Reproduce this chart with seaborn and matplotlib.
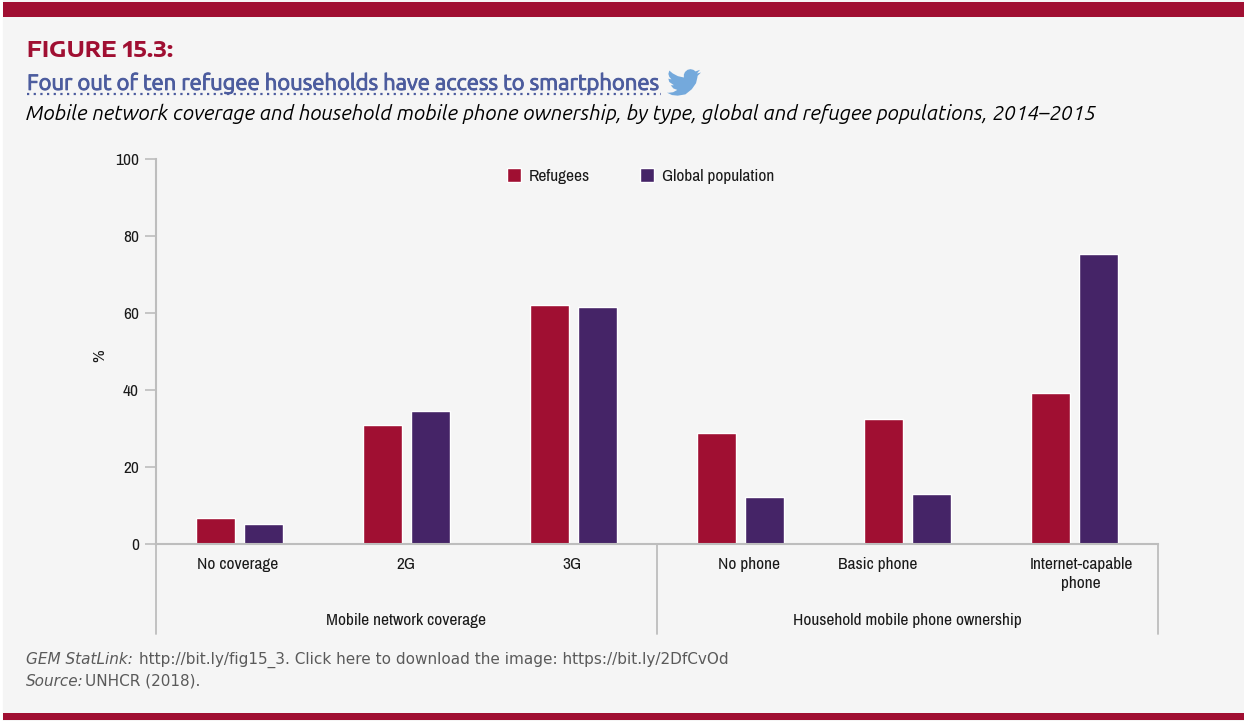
import matplotlib
matplotlib.use("Agg")
import matplotlib.pyplot as plt
import matplotlib.patheffects as pe
from matplotlib.lines import Line2D
from matplotlib.patches import Polygon, Rectangle
from matplotlib.transforms import ScaledTranslation
import logging
import pandas as pd
import seaborn as sns

logging.getLogger("matplotlib.font_manager").setLevel(logging.ERROR)

# --- DATA ---
categorias = ["No coverage", "2G", "3G", "No phone", "Basic phone", "Internet-capable\nphone"]
refugees = [6.7, 31.0, 62.2, 29.0, 32.4, 39.4]
global_pop = [5.3, 34.5, 61.5, 12.3, 13.0, 75.4]
y_ticks = [0, 20, 40, 60, 80, 100]
grupos = ["Mobile network coverage", "Household mobile phone ownership"]

ROJO = "#A00F32"
MORADO = "#452467"
FONDO = "#F5F5F5"
GRIS = "#BDBDBD"
W, H = 1244, 721
NARROW = ["Ubuntu Condensed", "Archivo Narrow", "Roboto", "DejaVu Sans"]
NORMAL = ["Ubuntu", "Lato", "DejaVu Sans"]
TAM = 12.5

df = pd.DataFrame({
    "cat": categorias * 2,
    "valor": refugees + global_pop,
    "serie": ["Refugees"] * 6 + ["Global population"] * 6,
})

sns.set_theme(style="white")
plt.rcParams["font.family"] = NARROW

fig = plt.figure(figsize=(W / 100, H / 100), dpi=100, facecolor="white")


def px(x, y):
    return x / W, 1 - y / H


# fondo y bandas
fig.add_artist(Rectangle(px(3, 721), 1241 / W, 721 / H, transform=fig.transFigure, color=FONDO, zorder=-5))
fig.add_artist(Rectangle(px(3, 17), 1241 / W, 15 / H, transform=fig.transFigure, color=ROJO, lw=0))
fig.add_artist(Rectangle(px(3, 720), 1241 / W, 7 / H, transform=fig.transFigure, color=ROJO, lw=0))

# --- GRAFICO ---
ax = fig.add_axes([155.6 / W, 1 - 544.2 / H, 1002 / W, 385 / H])
ax.set_facecolor("none")
sns.barplot(data=df, x="cat", y="valor", hue="serie", palette=[ROJO, MORADO],
            width=0.575, gap=0.19, saturation=1, ax=ax)
ax.set_xlim(-0.5, 5.5)
ax.set_ylim(0, 100)
ax.set_xlabel("")
ax.set_ylabel("")
ax.set_yticks(y_ticks)
ax.tick_params(axis="y", length=8, width=1.2, color=GRIS, labelsize=TAM, pad=4, left=True, labelcolor="#1a1a1a")
ax.tick_params(axis="x", length=0, labelsize=TAM, pad=9.5, labelcolor="#1a1a1a")
sns.despine(ax=ax, top=True, right=True)
for lado in ["left", "bottom"]:
    ax.spines[lado].set_color(GRIS)
    ax.spines[lado].set_linewidth(1.5)

# las etiquetas no estan centradas bajo cada grupo
nudge = [-1, 0, -1, 9, -29, 7]
for lab, dx in zip(ax.get_xticklabels(), nudge):
    lab.set_transform(lab.get_transform() + ScaledTranslation(dx / 100, 0, fig.dpi_scale_trans))
    lab.set_linespacing(1.3)

# lineas de separacion bajo el eje
trans = ax.get_xaxis_transform()
for x in [-0.5, 2.5, 5.5]:
    ax.plot([x, x], [0, -90 / 385], transform=trans, color=GRIS, lw=1.3, clip_on=False)
for x, g in zip([1, 4], grupos):
    ax.text(x, -76.5 / 385, g, transform=trans, ha="center", va="center", fontsize=TAM, color="#1a1a1a")

fig.text(*px(100, 356), "%", rotation=90, ha="center", va="center", fontsize=TAM, color="#1a1a1a")

# leyenda
handles, labels = ax.get_legend_handles_labels()
ax.legend(handles, labels, ncols=2, frameon=False, loc="center", bbox_to_anchor=(0.484, 0.956),
          fontsize=TAM, handlelength=0.8, handleheight=0.8, handletextpad=0.45, columnspacing=2.9,
          labelcolor="#1a1a1a")

# --- TEXTOS ---
fig.text(*px(27, 51), "FIGURE 15.3:", family=["Encode Sans Expanded", "DejaVu Sans"], weight="bold",
         fontsize=15.5, color=ROJO, va="center")
titulo = fig.text(*px(27, 83), "Four out of ten refugee households have access to smartphones", family=NORMAL,
                  fontsize=15.85, color="#4C5C9E", va="center")
titulo.set_path_effects([pe.withStroke(linewidth=0.7, foreground="#4C5C9E")])
fig.add_artist(Line2D([27 / W, 661 / W], [1 - 93.5 / H] * 2, transform=fig.transFigure, color="#4C5C9E",
                      lw=1.6, ls=(0, (1, 2))))
fig.text(*px(26, 113.5), "Mobile network coverage and household mobile phone ownership, by type, global and refugee populations, 2014\u20132015",
         family=NORMAL, style="italic", fontsize=14.9, color="black", va="center")

# pajaro de twitter
pajaro = [(24, 4.6), (21.1, 5.35), (23.3, 2.6), (20.2, 3.8), (18.6, 2.6), (16.6, 2.1), (14.5, 2.6),
          (12.7, 4.2), (11.9, 6.1), (11.9, 8.3), (7.7, 7.3), (4.1, 5.3), (1.64, 3.16), (0.97, 5.64),
          (1.6, 7.8), (3.16, 9.73), (0.93, 9.12), (1.6, 11.6), (4.88, 14), (2.67, 14.09), (4.5, 16.4),
          (7.27, 17.5), (4.3, 19.2), (1.17, 19.6), (0, 19.54), (3.5, 21.3), (7.56, 21.75), (13, 20.8),
          (17.5, 17), (20.5, 12.5), (21.55, 7.76), (21.54, 7.13)]
fig.add_artist(Polygon([px(667 + u * 34 / 24, 69 + (v - 2) * 27 / 20) for u, v in pajaro], closed=True,
                       transform=fig.transFigure, color="#74A9DC", lw=0))

# pie
pie = dict(family="DejaVu Sans", fontsize=11, color="#5a5a5a", va="center")
fig.text(*px(26, 660), "GEM StatLink:", style="italic", **pie)
fig.text(*px(139, 660), "http://bit.ly/fig15_3. Click here to download the image: https://bit.ly/2DfCvOd", **pie)
fig.text(*px(26, 681), "Source:", style="italic", **pie)
fig.text(*px(85, 681), "UNHCR (2018).", **pie)

fig.savefig("out.png", dpi=100, facecolor=fig.get_facecolor())
